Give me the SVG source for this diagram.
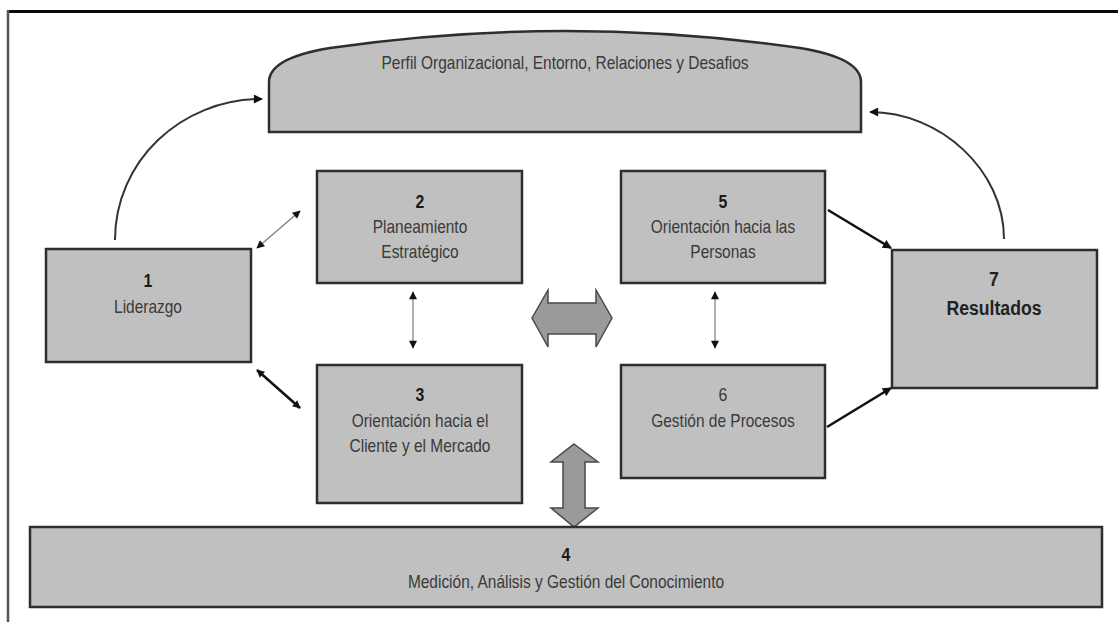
<svg xmlns="http://www.w3.org/2000/svg" width="1118" height="622" viewBox="0 0 1118 622">
  <style>
    .box { fill: #c0c0c0; stroke: #2e2e2e; stroke-width: 2.5; }
    .lbl { font-family: "Liberation Sans", Arial, sans-serif; font-size: 18px; fill: #3a3a3a; text-anchor: middle; }
    .num { font-family: "Liberation Sans", Arial, sans-serif; font-size: 18.5px; font-weight: bold; fill: #1a1a1a; text-anchor: middle; }
    .big { font-family: "Liberation Sans", Arial, sans-serif; font-size: 20.5px; font-weight: bold; fill: #222; text-anchor: middle; }
    .thin { fill: none; stroke: #7a7a7a; stroke-width: 1.2; }
    .bold { fill: none; stroke: #111; stroke-width: 2.6; }
    .curve { fill: none; stroke: #333; stroke-width: 2; }
    .block { fill: #9a9a9a; stroke: #4a4a4a; stroke-width: 1.5; stroke-linejoin: miter; }
  </style>
  <defs>
    <marker id="head" viewBox="0 0 10 10" refX="9" refY="5" markerWidth="9" markerHeight="8" markerUnits="userSpaceOnUse" orient="auto-start-reverse">
      <path d="M0,0 L10,5 L0,10 Z" fill="#111"/>
    </marker>
    <marker id="headBig" viewBox="0 0 10 10" refX="9" refY="5" markerWidth="10" markerHeight="9" markerUnits="userSpaceOnUse" orient="auto-start-reverse">
      <path d="M0,0 L10,5 L0,10 Z" fill="#111"/>
    </marker>
  </defs>

  <rect width="1118" height="622" fill="#ffffff"/>

  <!-- frame -->
  <g id="frame">
    <line x1="7" y1="11.5" x2="1118" y2="11.5" stroke="#0a0a0a" stroke-width="3"/>
    <line x1="8" y1="10" x2="8" y2="622" stroke="#555" stroke-width="2.5"/>
  </g>

  <!-- connectors -->
  <g id="connectors">
    <path class="curve" d="M115,240 C115,162 180,99 262,99" marker-end="url(#headBig)"/>
    <path class="curve" d="M1004,239 C1004,170 940,112 870,112" marker-end="url(#headBig)"/>
    <line class="thin" x1="257" y1="248" x2="300" y2="211" marker-start="url(#head)" marker-end="url(#head)"/>
    <line class="bold" x1="257" y1="370" x2="300" y2="408" marker-start="url(#head)" marker-end="url(#head)"/>
    <line class="thin" x1="413" y1="292" x2="413" y2="348" marker-start="url(#head)" marker-end="url(#head)"/>
    <line class="thin" x1="715" y1="292" x2="715" y2="348" marker-start="url(#head)" marker-end="url(#head)"/>
    <line class="bold" x1="828" y1="210" x2="891" y2="248" marker-end="url(#headBig)"/>
    <line class="bold" x1="827" y1="427" x2="891" y2="388" marker-end="url(#headBig)"/>
    <polygon class="block" points="532,318 548,290 548,303 596,303 596,290 612,318 596,347 596,334 548,334 548,347"/>
    <polygon class="block" points="574,444 598,462 585,462 585,508 598,508 574,527 551,508 563,508 563,462 551,462"/>
  </g>

  <!-- labels are set in a horizontally condensed face -->
  <g id="node-perfil">
    <path class="box" d="M269,132 V82 Q269,58 330,48 Q565,14 800,48 Q861,58 861,82 V132 Z"/>
    <text class="lbl" transform="translate(565,69) scale(0.86,1)">Perfil Organizacional, Entorno, Relaciones y Desafios</text>
  </g>

  <g id="node-1">
    <rect class="box" x="46" y="249" width="205" height="113"/>
    <text class="num" transform="translate(148,287) scale(0.86,1)">1</text>
    <text class="lbl" transform="translate(148,313) scale(0.86,1)">Liderazgo</text>
  </g>

  <g id="node-2">
    <rect class="box" x="317" y="171" width="205" height="112"/>
    <text class="num" transform="translate(420,208) scale(0.86,1)">2</text>
    <text class="lbl" transform="translate(420,233) scale(0.86,1)">Planeamiento</text>
    <text class="lbl" transform="translate(420,258) scale(0.86,1)">Estratégico</text>
  </g>

  <g id="node-3">
    <rect class="box" x="317" y="365" width="205" height="138"/>
    <text class="num" transform="translate(420,401) scale(0.86,1)">3</text>
    <text class="lbl" transform="translate(420,427) scale(0.86,1)">Orientación hacia el</text>
    <text class="lbl" transform="translate(420,452) scale(0.86,1)">Cliente y el Mercado</text>
  </g>

  <g id="node-5">
    <rect class="box" x="621" y="171" width="204" height="112"/>
    <text class="num" transform="translate(723,208) scale(0.86,1)">5</text>
    <text class="lbl" transform="translate(723,233) scale(0.86,1)">Orientación hacia las</text>
    <text class="lbl" transform="translate(723,258) scale(0.86,1)">Personas</text>
  </g>

  <g id="node-6">
    <rect class="box" x="621" y="365" width="204" height="113"/>
    <text class="lbl" transform="translate(723,401) scale(0.86,1)" style="font-size:18.5px">6</text>
    <text class="lbl" transform="translate(723,427) scale(0.86,1)">Gestión de Procesos</text>
  </g>

  <g id="node-7">
    <rect class="box" x="892" y="250" width="205" height="138"/>
    <text class="big" transform="translate(994,286) scale(0.86,1)">7</text>
    <text class="big" transform="translate(994,315) scale(0.86,1)">Resultados</text>
  </g>

  <g id="node-4">
    <rect class="box" x="30" y="527" width="1072" height="80"/>
    <text class="num" transform="translate(566,561) scale(0.86,1)">4</text>
    <text class="lbl" transform="translate(566,588) scale(0.86,1)">Medición, Análisis y Gestión del Conocimiento</text>
  </g>
</svg>
